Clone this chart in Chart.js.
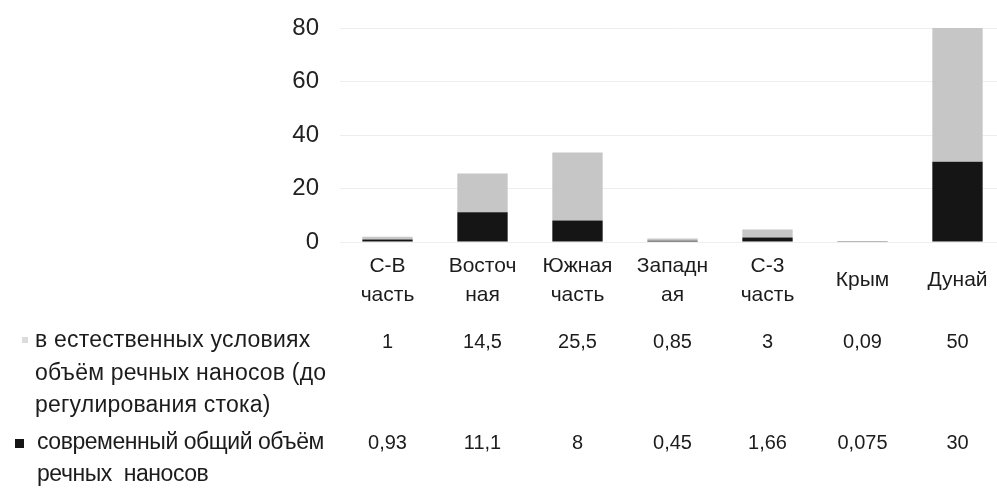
<!DOCTYPE html>
<html>
<head>
<meta charset="utf-8">
<script src="https://cdn.jsdelivr.net/npm/chart.js@4"></script>
<style>
  html, body { margin: 0; padding: 0; background: #ffffff; overflow: hidden; width: 997px; height: 491px; }
  #wrap { position: absolute; left: 0; top: 0; width: 1010px; height: 491px; }
  canvas { display: block; }
</style>
</head>
<body>
<div id="wrap"><canvas id="c" width="1010" height="491"></canvas></div>
<script>
// ---- data ----
const categories = [['С-В', 'часть'], ['Восточ', 'ная'], ['Южная', 'часть'], ['Западн', 'ая'], ['С-3', 'часть'], 'Крым', 'Дунай'];
const naturalValues = [1, 14.5, 25.5, 0.85, 3, 0.09, 50];
const modernValues = [0.93, 11.1, 8, 0.45, 1.66, 0.075, 30];
const yTicks = [0, 20, 40, 60, 80];
const naturalLabel = ['в естественных условиях', 'объём речных наносов (до', 'регулирования стока)'];
const modernLabel = ['современный общий объём', 'речных  наносов'];

const FONT = '"Liberation Sans", Arial, sans-serif';
const GRAY = '#c6c6c6';
const BLACK = '#151515';
const TEXT = '#1c1c1c';

function fmt(v) { return String(v).replace('.', ','); }

const tablePlugin = {
  id: 'dataTable',
  afterDraw(chart) {
    const ctx = chart.ctx;
    const xs = chart.scales.x;
    const hasLS = 'letterSpacing' in ctx;
    ctx.save();
    ctx.fillStyle = TEXT;
    ctx.textBaseline = 'alphabetic';

    // legend column
    ctx.font = '23px ' + FONT;
    ctx.textAlign = 'left';
    if (hasLS) ctx.letterSpacing = '0.2px';
    const natLines = [347, 380, 412];
    naturalLabel.forEach((t, i) => ctx.fillText(t, 35, natLines[i]));
    if (hasLS) ctx.letterSpacing = '-0.45px';
    const modLines = [449, 481];
    modernLabel.forEach((t, i) => ctx.fillText(t, 37, modLines[i]));
    if (hasLS) ctx.letterSpacing = '0px';

    // markers
    ctx.fillStyle = '#dcdcdc';
    ctx.fillRect(22, 337, 6, 6);
    ctx.fillStyle = BLACK;
    ctx.fillRect(15, 439, 9, 9);

    // values
    ctx.fillStyle = TEXT;
    ctx.font = '20px ' + FONT;
    ctx.textAlign = 'center';
    naturalValues.forEach((v, i) => ctx.fillText(fmt(v), xs.getPixelForValue(i), 348));
    modernValues.forEach((v, i) => ctx.fillText(fmt(v), xs.getPixelForValue(i), 449));
    ctx.restore();
  }
};

new Chart(document.getElementById('c'), {
  type: 'bar',
  data: {
    labels: categories,
    datasets: [
      { label: modernLabel.join(' '), data: modernValues, backgroundColor: BLACK, borderWidth: 0 },
      { label: naturalLabel.join(' '), data: naturalValues, backgroundColor: GRAY, borderWidth: 0 }
    ]
  },
  options: {
    responsive: false,
    animation: false,
    devicePixelRatio: 1,
    layout: { padding: { left: 0, right: 5, top: 28, bottom: 179 } },
    plugins: { legend: { display: false }, tooltip: { enabled: false } },
    datasets: { bar: { barPercentage: 0.53, categoryPercentage: 1 } },
    scales: {
      x: {
        stacked: true,
        grid: { display: false },
        border: { display: false },
        ticks: {
          color: TEXT,
          font: { family: FONT, size: 21, lineHeight: 1.38 },
          padding: 16,
          maxRotation: 0,
          autoSkip: false,
          crossAlign: 'center'
        },
        afterFit(s) { s.height = 70; }
      },
      y: {
        stacked: true,
        min: 0,
        max: 80,
        afterBuildTicks(s) { s.ticks = yTicks.map(v => ({ value: v })); },
        grid: { color: '#eeeeee', drawTicks: true, tickLength: 21, tickColor: 'rgba(0,0,0,0)' },
        border: { display: false },
        ticks: {
          color: '#222222',
          font: { family: FONT, size: 24 },
          padding: 0
        },
        afterFit(s) { s.width = 340; }
      }
    }
  },
  plugins: [tablePlugin]
});
</script>
</body>
</html>
